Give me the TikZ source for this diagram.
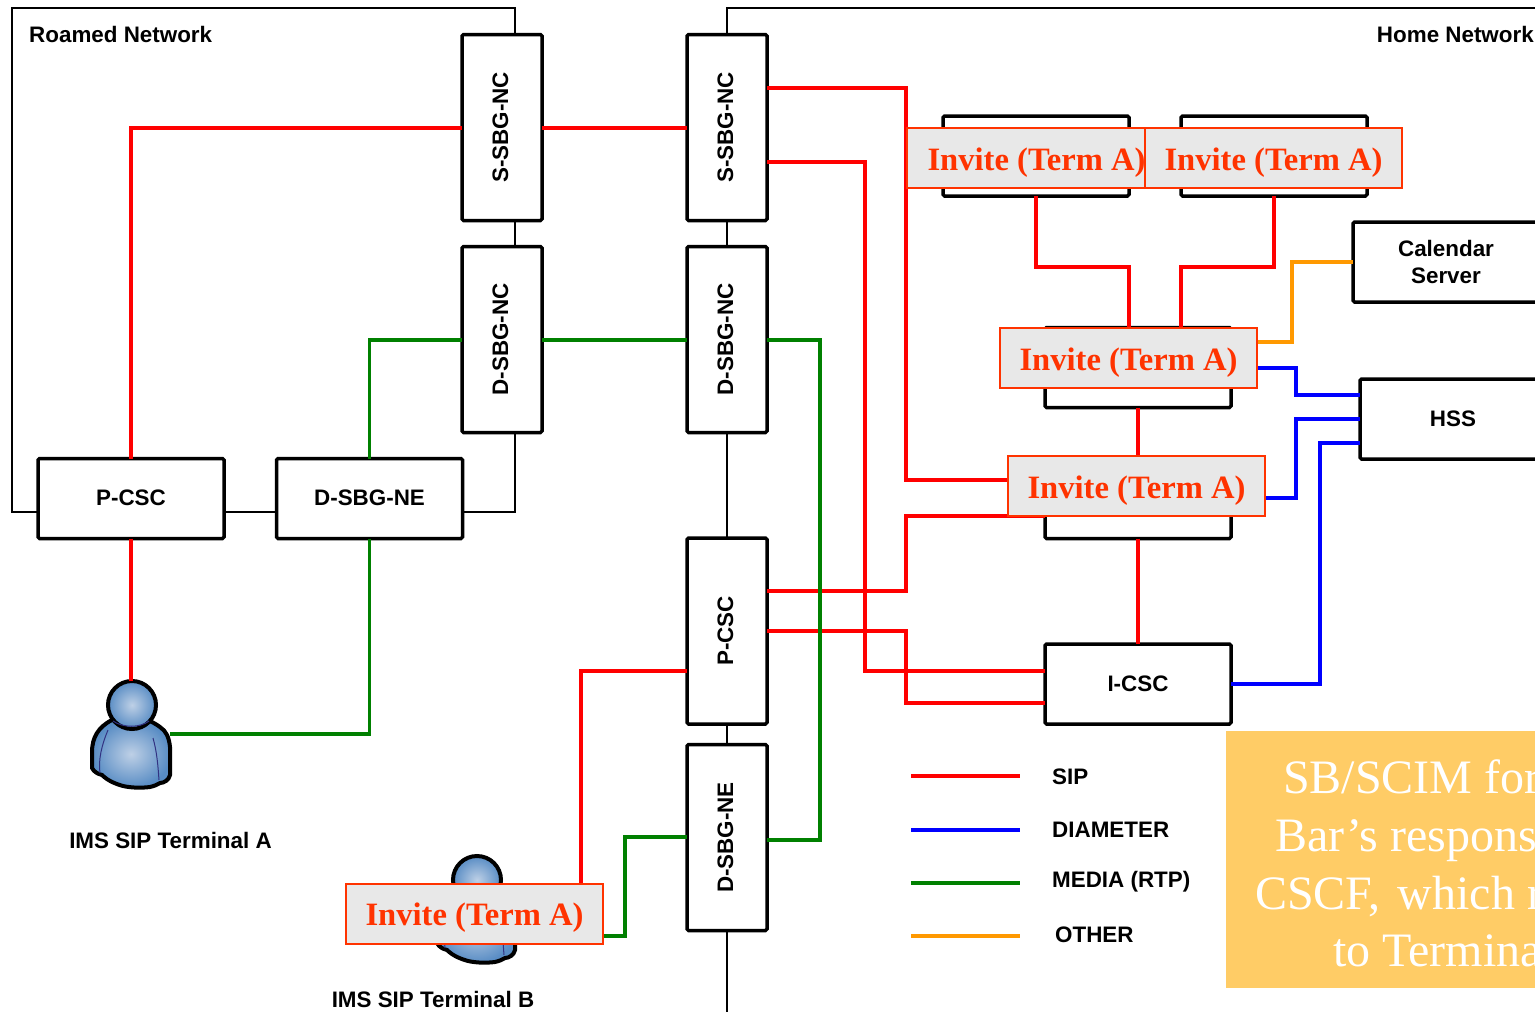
\documentclass[tikz,border=0pt]{standalone}
\usepackage{fontspec}
\usepackage{graphicx}
\setmainfont{Liberation Sans}
\newfontfamily\serifbody{Liberation Serif}
\definecolor{sipred}{RGB}{255,0,0}
\definecolor{diamblue}{RGB}{0,0,255}
\definecolor{mediagreen}{RGB}{0,128,0}
\definecolor{otherorange}{RGB}{255,153,0}
\definecolor{invitered}{RGB}{255,51,0}
\definecolor{invitegray}{RGB}{232,232,232}
\definecolor{notegold}{RGB}{255,204,102}
\definecolor{skinlight}{RGB}{190,208,230}
\definecolor{skindark}{RGB}{88,140,196}
\definecolor{seamdark}{RGB}{50,50,130}
\tikzset{
  netbox/.style={draw=black, line width=3.5pt, fill=white, rounded corners=1.5pt, outer sep=0pt,
    minimum width=186pt, minimum height=80pt, inner sep=0pt, align=center,
    font=\fontsize{22.4}{27}\selectfont\bfseries},
  tallbox/.style={netbox, minimum width=80pt, minimum height=186pt},
  invite/.style={draw=invitered, line width=2pt, fill=invitegray, text=invitered, outer sep=0pt,
    minimum width=257pt, minimum height=60pt, inner sep=0pt, text height=30pt, text depth=6pt,
    font=\serifbody\fontsize{32.6}{36}\selectfont\bfseries},
  caption/.style={font=\fontsize{22.4}{27}\selectfont\bfseries, inner sep=0pt},
  notetext/.style={text=white, anchor=base west, inner sep=0pt,
    font=\serifbody\fontsize{48}{52}\selectfont},
  border/.style={draw=black, line width=2pt},
  sip/.style={draw=sipred, line width=3.5pt},
  diameter/.style={draw=diamblue, line width=3.5pt},
  media/.style={draw=mediagreen, line width=3.5pt},
  other/.style={draw=otherorange, line width=3.5pt},
}
\newcommand{\uprotate}[1]{\hspace*{-3pt}\rotatebox{90}{#1}}
\newcommand{\drawterminal}[2]{%
  \begin{scope}[shift={(#1,#2)}]
    \draw[line width=4pt, shading=radial, inner color=skinlight, outer color=skindark]
      (112,720) .. controls (98,727) and (92,738) .. (92,752)
      -- (92,768) .. controls (94,772) and (98,774) .. (102,775)
      .. controls (108,781) and (116,784) .. (123,786)
      .. controls (132,788) and (142,788) .. (150,787)
      .. controls (154,786) and (157,785) .. (160,783)
      .. controls (164,783) and (169,780) .. (170,775)
      -- (170,747) .. controls (169,737) and (166,731) .. (160,727)
      .. controls (156,724) and (152,722) .. (148,720) -- cycle;
    \draw[seamdark, line width=1pt] (108,730) .. controls (102,744) and (98,760) .. (100,773);
    \draw[seamdark, line width=1pt] (153,738) .. controls (157,752) and (158,766) .. (159,780);
    \draw[line width=4pt, shading=radial, inner color=skinlight, outer color=skindark]
      (132,705) circle (24);
    \draw[seamdark, line width=1pt] (113,721) .. controls (123,728) and (140,728) .. (149,721);
  \end{scope}}

\begin{document}
\begin{tikzpicture}[x=1pt, y=-1pt]
    \useasboundingbox (0,0) rectangle (1535,1012);

    % Network borders
    \draw[border] (515,35) |- (12,8) |- (38,512);
    \draw[border] (727,35) |- (1535,8);
    \draw[border] (225,512) -- (276,512);
    \draw[border] (463,512) -| (515,433);
    \draw[border] (515,220) -- (515,247);

    \node[caption, anchor=base west] (roamedlabel) at (29,42) {Roamed Network};
    \node[caption, anchor=base east] (homelabel) at (1534,42) {Home Network};

    % Elements of the roamed network
    \node[tallbox] (ssbgL) at (502,127.5) {\uprotate{S-SBG-NC}};
    \node[tallbox] (dsbgL) at (502,339.5) {\uprotate{D-SBG-NC}};
    \node[netbox] (pcscL) at (131,498.5) {\raisebox{1pt}{P-CSC}};
    \node[netbox] (neL) at (369.5,498.5) {\raisebox{1pt}{D-SBG-NE}};

    % Elements of the home network
    \node[tallbox] (ssbgR) at (727,127.5) {\uprotate{S-SBG-NC}};
    \node[tallbox] (dsbgR) at (727,339.5) {\uprotate{D-SBG-NC}};
    \node[tallbox] (pcscR) at (727,631) {\uprotate{P-CSC}};
    \node[tallbox] (neR) at (727,837.5) {\uprotate{D-SBG-NE}};
    \node[netbox] (asone) at (1036,156) {};
    \node[netbox] (astwo) at (1274,156) {};
    \node[netbox] (scscf) at (1138,367.5) {};
    \node[netbox] (pcscf) at (1138,498.5) {};
    \node[netbox] (icsc) at (1138,684) {\raisebox{1pt}{I-CSC}};
    \node[netbox] (calendar) at (1446,262) {Calendar\\Server};
    \node[netbox] (hss) at (1453,419) {HSS};

    % Spine of the home network
    \coordinate (homeend) at (727,1012);
    \draw[border] (ssbgR.south) -- (dsbgR.north);
    \draw[border] (dsbgR.south) -- (pcscR.north);
    \draw[border] (pcscR.south) -- (neR.north);
    \draw[border] (neR.south) -- (homeend);

    % Terminals
    \drawterminal{0}{0}
    \drawterminal{345}{175}
    \coordinate (terma) at (131,681);
    \coordinate (termaside) at (170,734);
    \node[caption] (termalabel) at (170.5,840) {IMS SIP Terminal A};
    \node[caption] (termblabel) at (433,999) {IMS SIP Terminal B};

    % SIP
    \draw[sip] (pcscL.north) |- (ssbgL.west |- 0,128);
    \draw[sip] (ssbgL.east |- 0,128) -- (ssbgR.west |- 0,128);
    \draw[sip] (pcscL.south) -- (terma);
    \draw[sip] (ssbgR.east |- 0,88) -- (906,88) |- (pcscf.west |- 0,480);
    \draw[sip] (ssbgR.east |- 0,162) -- (865,162) |- (icsc.west |- 0,671);
    \draw[sip] (asone.south -| 1036,0) |- (1129,267) -- (scscf.north -| 1129,0);
    \draw[sip] (astwo.south -| 1274,0) |- (1181,267) -- (scscf.north -| 1181,0);
    \draw[sip] (scscf.south) -- (pcscf.north);
    \draw[sip] (pcscf.south) -- (icsc.north);
    \draw[sip] (pcscR.east |- 0,591) -- (906,591) |- (pcscf.west |- 0,516);
    \draw[sip] (pcscR.east |- 0,631) -- (906,631) |- (icsc.west |- 0,703);

    % MEDIA
    \draw[media] (neL.north) |- (dsbgL.west |- 0,340);
    \draw[media] (dsbgL.east |- 0,340) -- (dsbgR.west |- 0,340);
    \draw[media] (dsbgR.east |- 0,340) -- (820,340) |- (neR.east |- 0,840);
    \draw[media] (neL.south) |- (termaside);

    % OTHER
    \draw[other] (1257,342) -| (1292,262) -- (calendar.west |- 0,262);

    % DIAMETER
    \draw[diameter] (1257,368) -| (1296,395) -- (hss.west |- 0,395);
    \draw[diameter] (1265,498) -| (1296,419) -- (hss.west |- 0,419);
    \draw[diameter] (icsc.east) -| (1320,443) -- (hss.west |- 0,443);

    % Invite labels
    \node[invite, minimum width=238pt] (inviteone) at (1026,158) {\hspace*{21pt}Invite (Term A)};
    \node[invite] (invitetwo) at (1273.5,158) {Invite (Term A)};
    \node[invite] (invitethree) at (1128.5,358) {Invite (Term A)};
    \node[invite] (invitefour) at (1136.5,486) {Invite (Term A)};

    % Terminal B connectors
    \draw[sip] (pcscR.west |- 0,671) -| (581,884);
    \coordinate (termbside) at (603,936);
    \draw[media] (termbside) -| (625,837) -- (neR.west |- 0,837);
    \node[invite] (invitefive) at (474.5,913.5) {Invite (Term A)};

    % Legend
    \foreach \linestyle/\ypos/\xtext/\ytext/\labeltext in {sip/776/1052/777/SIP, diameter/830/1052/830/DIAMETER, media/883/1052/882/MEDIA (RTP), other/936/1055/935/OTHER}{
      \draw[\linestyle] (911,\ypos) -- (1020,\ypos);
      \node[caption, anchor=west] at (\xtext,\ytext) {\labeltext};
    }

    % Note
    \fill[notegold] (1226,731) rectangle (1535,988);
    \node[notetext] (noteone) at (1283,793) {SB/SCIM for};
    \node[notetext] (notetwo) at (1275,851) {Bar’s respons};
    \node[notetext] (notethree) at (1255,909) {CSCF,\hspace{17pt}which r};
    \node[notetext] (notefour) at (1333,966) {to Termina};
\end{tikzpicture}
\end{document}
